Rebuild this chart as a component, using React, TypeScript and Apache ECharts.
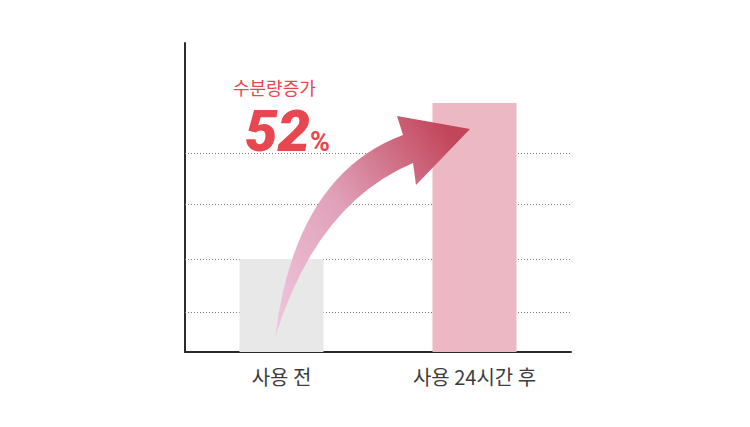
import { useEffect, useRef } from 'react'
import * as echarts from 'echarts'

// ---------- data ----------
const categories = ['사용 전', '사용 24시간 후']
const moistureValues = [30.1, 80.6]
const barColors = ['#e8e8e8', '#ebb8c4']
const gridLineValues = [13, 30.1, 47.9, 64.4]
const Y_MAX = 100

const headline = '수분량증가'
const increaseValue = '52'
const increaseUnit = '%'

// curved arrow decoration (svg path, page pixels)
const ARROW_PATH =
  'M275 338 Q295 175 403 135 L397 116 L470 129 L416 185 L413 163 Q316 204 275 338 Z'

echarts.graphic.registerShape('moistArrow', echarts.graphic.extendPath(ARROW_PATH, {}) as any)

const RED = '#e8474f'
const KR_FONT = '"Noto Sans CJK KR", "Noto Sans", sans-serif'

export default function App() {
  const ref = useRef<HTMLDivElement>(null)

  useEffect(() => {
    document.body.style.margin = '0'
    if (!ref.current) return
    const chart = echarts.init(ref.current, undefined, { renderer: 'svg' })

    chart.setOption({
      animation: false,
      backgroundColor: '#ffffff',
      grid: { left: 185, right: 179, top: 43, bottom: 75, containLabel: false },
      xAxis: {
        type: 'category',
        data: categories,
        axisLine: { lineStyle: { color: '#2b2b2b', width: 2 } },
        axisTick: { show: false },
        axisLabel: { color: '#3d3d3d', fontSize: 20, margin: 14, fontFamily: KR_FONT },
      },
      yAxis: {
        type: 'value',
        min: 0,
        max: Y_MAX,
        axisLine: { show: true, lineStyle: { color: '#2b2b2b', width: 2 } },
        axisTick: { show: false },
        axisLabel: { show: false },
        splitLine: { show: false },
      },
      series: [
        {
          type: 'bar',
          barWidth: 84,
          z: 2,
          data: moistureValues.map((v, i) => ({ value: v, itemStyle: { color: barColors[i] } })),
          markLine: {
            silent: true,
            symbol: 'none',
            z: 1,
            label: { show: false },
            lineStyle: { color: '#7a7a7a', type: [1, 2], width: 1 },
            emphasis: { disabled: true },
            data: gridLineValues.map((v) => ({ yAxis: v })),
          },
        },
      ],
      graphic: [
        {
          type: 'moistArrow',
          x: 0,
          y: 0,
          z: 10,
          silent: true,
          style: {
            fill: new echarts.graphic.LinearGradient(0, 1, 1, 0.2, [
              { offset: 0, color: '#f0c8df' },
              { offset: 0.5, color: '#e0a0b8' },
              { offset: 1, color: '#c2455a' },
            ]),
          },
        },
        {
          type: 'text',
          x: 233,
          y: 87,
          z: 10,
          style: {
            text: headline,
            fill: RED,
            font: `400 18px ${KR_FONT}`,
            verticalAlign: 'middle',
          },
        },
        {
          type: 'text',
          x: 245,
          y: 131,
          z: 10,
          style: {
            text: increaseValue,
            fill: RED,
            font: 'italic 900 58px Roboto, "Open Sans", sans-serif',
            verticalAlign: 'middle',
          },
        },
        {
          type: 'text',
          x: 310,
          y: 142,
          z: 10,
          style: {
            text: increaseUnit,
            fill: RED,
            font: '700 27px Roboto, "Open Sans", sans-serif',
            verticalAlign: 'middle',
          },
        },
      ],
    })

    return () => chart.dispose()
  }, [])

  return <div ref={ref} style={{ width: 750, height: 427 }} />
}
